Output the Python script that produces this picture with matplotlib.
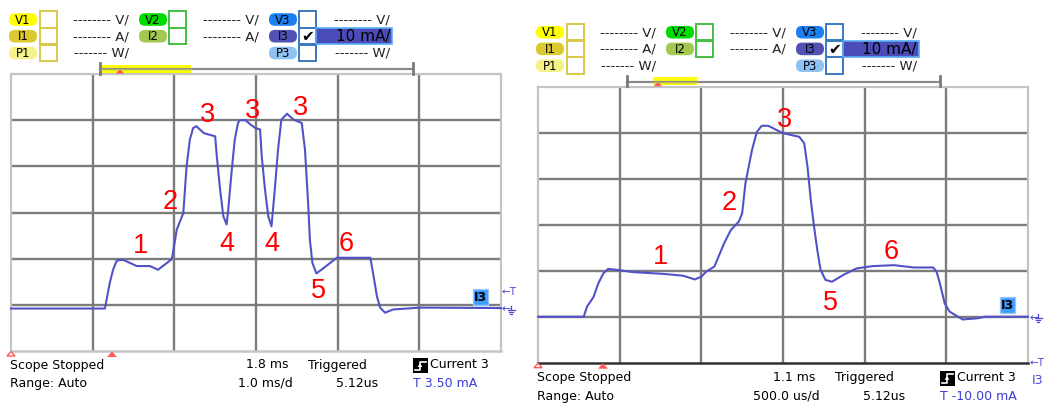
import matplotlib
matplotlib.use("Agg")
import matplotlib.pyplot as plt
from matplotlib.patches import FancyBboxPatch, Rectangle, Polygon

W, H = 1044, 405

# ---- trace data: time in ms, current in mA ----
left_t = [0.00, 1.15, 1.21, 1.25, 1.29, 1.32, 1.38, 1.54, 1.70, 1.80, 1.97, 2.03, 2.11,
          2.15, 2.19, 2.23, 2.27, 2.36, 2.50, 2.52, 2.56, 2.60, 2.64, 2.66, 2.70, 2.74,
          2.78, 2.80, 2.87, 2.93, 2.99, 3.05, 3.07, 3.11, 3.15, 3.19, 3.23, 3.27, 3.31,
          3.38, 3.46, 3.56, 3.60, 3.64, 3.66, 3.69, 3.74, 3.83, 3.91, 3.99, 4.40, 4.44,
          4.48, 4.52, 4.58, 4.68, 5.01, 6.00]
left_ma = [0.0, 0.0, 5.6, 8.4, 10.2, 10.5, 10.5, 9.2, 9.2, 8.4, 10.7, 17.1, 20.7,
           30.8, 36.6, 39.1, 39.5, 38.0, 37.3, 33.0, 25.8, 20.0, 18.2, 21.4, 29.4, 36.6,
           40.2, 40.8, 40.8, 39.9, 39.1, 38.8, 33.0, 25.8, 20.0, 17.8, 25.8, 34.4, 40.9,
           42.2, 40.9, 40.2, 34.4, 22.2, 14.9, 9.9, 7.6, 8.8, 9.9, 11.0, 11.0, 7.0,
           2.7, 0.2, -0.9, -0.2, 0.2, 0.1]

right_t = [0.00, 0.28, 0.30, 0.34, 0.37, 0.40, 0.43, 0.50, 0.58, 0.77, 0.89, 0.96, 1.00,
           1.03, 1.08, 1.14, 1.18, 1.23, 1.25, 1.27, 1.29, 1.31, 1.34, 1.37, 1.41, 1.46,
           1.50, 1.60, 1.63, 1.65, 1.67, 1.69, 1.71, 1.73, 1.76, 1.80, 1.87, 1.95, 2.05,
           2.18, 2.30, 2.42, 2.44, 2.46, 2.49, 2.52, 2.60, 2.69, 2.74, 3.00]
right_ma = [0.0, 0.0, 2.2, 4.3, 7.3, 9.4, 10.4, 10.1, 9.7, 9.3, 8.9, 8.1, 8.7,
            9.8, 10.9, 16.0, 18.8, 20.7, 22.5, 29.0, 32.6, 36.2, 40.2, 41.5, 41.5, 40.6,
            39.9, 39.1, 37.7, 32.6, 25.4, 19.6, 14.5, 10.2, 8.0, 7.6, 9.1, 10.5, 11.0,
            11.2, 10.7, 10.7, 9.8, 7.3, 2.9, 1.1, -0.6, -0.35, 0.0, 0.0]

# ---- phase annotations ----
left_marks = ["1", "2", "3", "3", "3", "4", "4", "5", "6"]
left_mark_t = [1.58, 1.95, 2.41, 2.96, 3.54, 2.64, 3.20, 3.76, 4.11]
left_mark_ma = [13.5, 23.0, 42.0, 42.7, 43.5, 13.9, 13.9, 3.7, 13.9]
right_marks = ["1", "2", "3", "5", "6"]
right_mark_t = [0.75, 1.17, 1.51, 1.79, 2.16]
right_mark_ma = [13.0, 24.7, 42.8, 2.9, 14.1]

# ---- status texts ----
cursor_text = ["1.8 ms", "1.1 ms"]
timebase_text = ["1.0 ms/d", "500.0 us/d"]
trigger_text = ["T 3.50 mA", "T -10.00 mA"]
scale_text = "10 mA/"
state_text = "Scope Stopped"
range_text = "Range: Auto"
trig_state = "Triggered"
trig_time = "5.12us"
channel_text = "Current 3"

TRACE = "#5252c8"
GRID = "#7c7c7c"
FRAME = "#c4c4c4"

fig = plt.figure(figsize=(W / 100, H / 100), dpi=100)
fig.patch.set_facecolor("white")


def add_px_axes(x0, y0, x1, y1):
    return fig.add_axes([x0 / W, 1 - y1 / H, (x1 - x0) / W, (y1 - y0) / H])


panels = [
    dict(ox=0, oy=0, box=(11, 74, 501, 351), span=6.0, ylim=(-9.2, 50.8),
         t=left_t, ma=left_ma, marks=(left_marks, left_mark_t, left_mark_ma),
         bottom_col=FRAME, yellow=(101, 191), red_tri=120, foot_tri=112),
    dict(ox=527, oy=12.7, box=(538, 86.7, 1028, 362.7), span=3.0, ylim=(-10, 50),
         t=right_t, ma=right_ma, marks=(right_marks, right_mark_t, right_mark_ma),
         bottom_col="#303030", yellow=(653, 697), red_tri=658, foot_tri=603),
]

for p in panels:
    ax = add_px_axes(*p["box"])
    ax.set_xlim(0, p["span"])
    ax.set_ylim(*p["ylim"])
    ax.set_xticks([p["span"] * k / 6 for k in range(1, 6)])
    ax.set_yticks([p["ylim"][0] + 10 * k for k in range(1, 6)])
    ax.tick_params(length=0, labelbottom=False, labelleft=False)
    ax.grid(True, color=GRID, lw=1.7)
    for side in ["top", "left", "right"]:
        ax.spines[side].set_color(FRAME)
        ax.spines[side].set_linewidth(1.6)
    ax.spines["bottom"].set_color(p["bottom_col"])
    ax.spines["bottom"].set_linewidth(1.8)
    ax.plot(p["t"], p["ma"], color=TRACE, lw=1.5, zorder=3, clip_on=False)
    labels, mt, mm = p["marks"]
    for s, tx, my in zip(labels, mt, mm):
        ax.text(tx, my, s, color="#ff0000", fontsize=19.5, ha="center", va="center",
                family="Liberation Sans", zorder=4)
    p["ax"] = ax

# overlay in pixel coordinates for the instrument decorations
ov = fig.add_axes([0, 0, 1, 1], zorder=10)
ov.set_xlim(0, W)
ov.set_ylim(H, 0)
ov.axis("off")
ov.patch.set_alpha(0)

pill_rows = [19.5, 36.2, 53.0]
cols = [
    dict(pill=9, box=40, txt_end=129, edge="#d8c84c",
         labels=[("V1", "#ffff00"), ("I1", "#dcc830"), ("P1", "#f6f28a")],
         texts=["-------- V/", "-------- A/", "------- W/"]),
    dict(pill=139, box=169, txt_end=259, edge="#44c044",
         labels=[("V2", "#00dc00"), ("I2", "#a2c852"), None],
         texts=["-------- V/", "-------- A/", None]),
    dict(pill=269, box=299, txt_end=390, edge="#3a78c0",
         labels=[("V3", "#1a80f0"), ("I3", "#5252b4"), ("P3", "#8ec2f2")],
         texts=["-------- V/", None, "------- W/"]),
]

for pi, p in enumerate(panels):
    ox, oy = p["ox"], p["oy"]
    for c in cols:
        for r, yc in enumerate(pill_rows):
            lab = c["labels"][r]
            if lab is None:
                continue
            name, col = lab
            y = yc + oy
            ov.add_patch(FancyBboxPatch((c["pill"] + ox, y - 6.3), 28, 12.6,
                                        boxstyle="round,pad=0,rounding_size=6",
                                        fc=col, ec="none"))
            ov.text(c["pill"] + ox + 14, y + 0.5, name, fontsize=8.5, ha="center",
                    va="center", color="black")
            ov.add_patch(Rectangle((c["box"] + ox, y - 8.3), 16.5, 16.6, fc="white",
                                   ec=c["edge"], lw=1.4))
            t = c["texts"][r]
            if t is not None:
                ov.text(c["txt_end"] + ox, y + 0.5, t, fontsize=9.5, ha="right",
                        va="center", color="#202020")
    # selected channel scale
    y2 = pill_rows[1] + oy
    ov.add_patch(Rectangle((316 + ox, y2 - 8.3), 76, 16.6, fc="#4c4cb8",
                           ec="#58aaf6", lw=1.2))
    ov.text(307.5 + ox, y2 + 0.5, "\u2714", fontsize=11, ha="center", va="center",
            color="black")
    ov.text(390 + ox, y2 + 0.5, scale_text, fontsize=11, ha="right", va="center",
            color="black")

    # time window bar
    yb = 69 + oy
    ov.plot([100 + ox, 413 + ox], [yb, yb], color="#8a8a8a", lw=1.6)
    ov.plot([100 + ox, 100 + ox], [yb - 6, yb + 4.5], color="#7a7a7a", lw=2)
    ov.plot([413 + ox, 413 + ox], [yb - 6, yb + 4.5], color="#7a7a7a", lw=2)
    ya0, ya1 = p["yellow"]
    ov.add_patch(Rectangle((ya0, yb - 4.5), ya1 - ya0, 8, fc="#ffff00", ec="none"))
    ov.plot([ya0, ya1], [yb, yb], color="#b0b070", lw=1)
    rt = p["red_tri"]
    ov.add_patch(Polygon([(rt - 4, yb + 4.5), (rt + 4, yb + 4.5), (rt, yb - 0.5)],
                         fc="#ff5a5a", ec="none"))

    # trigger / ground markers along the lower edge
    gx0, gy0, gx1, gy1 = p["box"]
    ov.add_patch(Polygon([(gx0 - 4, gy1 + 5), (gx0 + 4, gy1 + 5), (gx0, gy1 + 0.5)],
                         fc="white", ec="#ff5a5a", lw=1))
    ft = p["foot_tri"]
    ov.add_patch(Polygon([(ft - 5, gy1 + 6), (ft + 5, gy1 + 6), (ft, gy1 + 0.5)],
                         fc="#ff5a5a", ec="none"))

    # channel tag at the right end of the trace
    axp = p["ax"]
    _, base_y = ov.transData.inverted().transform(axp.transData.transform((0, 0)))
    ov.add_patch(Rectangle((473 + ox, base_y - 20), 15, 16.5, fc="#3c9cff",
                           ec="#9cc8ff", lw=1))
    ov.text(480.5 + ox, base_y - 11.3, "I3", fontsize=9, ha="center", va="center",
            color="black", weight="bold")

    # right-edge markers: trigger level and ground
    mc = "#4a4ad8"
    _, trig_y = ov.transData.inverted().transform(
        axp.transData.transform((0, float(trigger_text[pi].split()[1]))))
    ov.text(502 + ox, trig_y, "\u2190T", fontsize=7.5, ha="left", va="center", color=mc)
    ov.text(502 + ox, base_y + 1, "\u2190", fontsize=8, ha="left", va="center", color=mc)
    gxm = 511 + ox
    ov.plot([gxm, gxm], [base_y - 3, base_y + 1], color=mc, lw=0.9)
    ov.plot([gxm - 3.5, gxm + 3.5], [base_y + 1, base_y + 1], color=mc, lw=0.9)
    ov.plot([gxm - 2.2, gxm + 2.2], [base_y + 3, base_y + 3], color=mc, lw=0.9)
    ov.plot([gxm - 1, gxm + 1], [base_y + 5, base_y + 5], color=mc, lw=0.9)
    if pi == 1:
        ov.text(1032, gy1 + 18, "I3", fontsize=9, ha="left", va="center", color=mc)

    # status lines
    yr1, yr2 = 365 + oy, 383.5 + oy
    fs = 9
    ov.text(10 + ox, yr1, state_text, fontsize=fs, ha="left", va="center")
    ov.text(10 + ox, yr2, range_text, fontsize=fs, ha="left", va="center")
    ov.text(288 + ox, yr1, cursor_text[pi], fontsize=fs, ha="right", va="center")
    ov.text(293 + ox, yr2, timebase_text[pi], fontsize=fs, ha="right", va="center")
    ov.text(308 + ox, yr1, trig_state, fontsize=fs, ha="left", va="center")
    ov.text(378 + ox, yr2, trig_time, fontsize=fs, ha="right", va="center")
    ov.text(430 + ox, yr1, channel_text, fontsize=fs, ha="left", va="center")
    ov.text(413 + ox, yr2, trigger_text[pi], fontsize=fs, ha="left", va="center",
            color="#3c3cd6")
    # edge-trigger icon
    ix, iy = 413 + ox, 358 + oy
    ov.add_patch(Rectangle((ix, iy), 15, 15, fc="black", ec="none"))
    ov.plot([ix + 2, ix + 7, ix + 7, ix + 13], [iy + 12, iy + 12, iy + 3.5, iy + 3.5],
            color="white", lw=1.2)
    ov.add_patch(Polygon([(ix + 4.5, iy + 9), (ix + 9.5, iy + 9), (ix + 7, iy + 5.5)],
                         fc="white", ec="none"))

fig.savefig("out.png", dpi=100, facecolor="white")
